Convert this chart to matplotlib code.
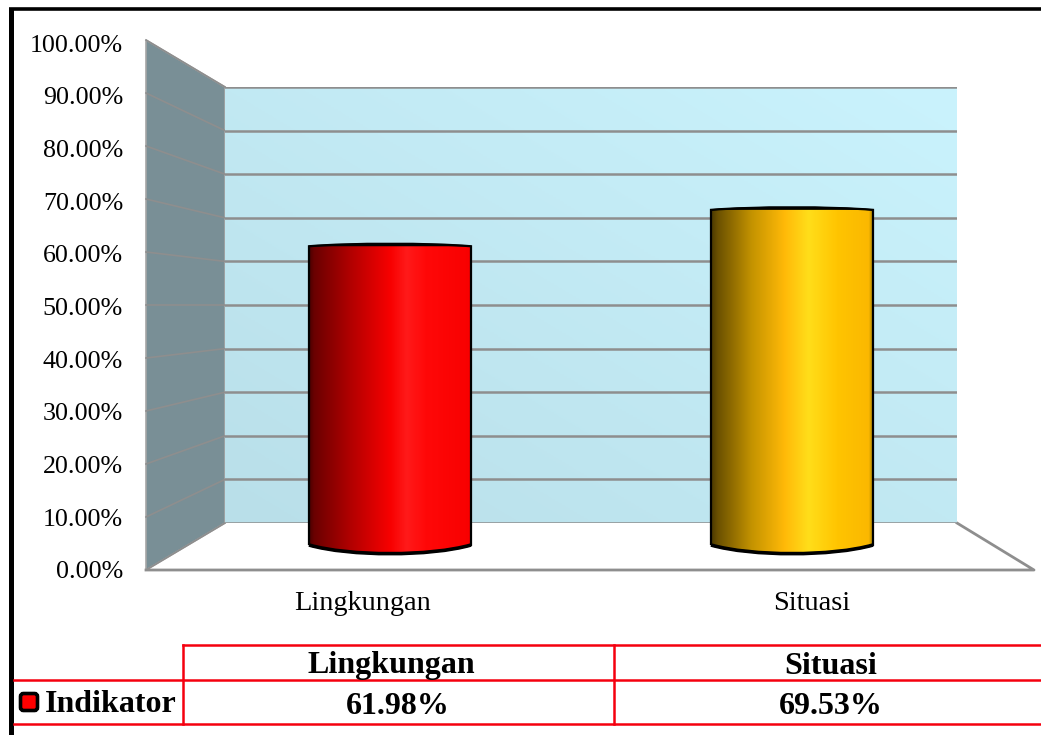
import matplotlib
matplotlib.use('Agg')
import matplotlib.pyplot as plt
import numpy as np
from matplotlib.colors import LinearSegmentedColormap
from matplotlib.patches import PathPatch, Polygon, FancyBboxPatch
from matplotlib.path import Path

categories = ['Lingkungan', 'Situasi']
values = [61.98, 69.53]
series_name = 'Indikator'
value_labels = ['61.98%', '69.53%']
ticks = [0, 10, 20, 30, 40, 50, 60, 70, 80, 90, 100]
tick_labels = ['%.2f%%' % t for t in ticks]

W, H = 1041, 735
GRID = '#8e8e8e'
RED = '#f5000f'
SERIF = 'Liberation Serif'

plt.rcParams['font.family'] = SERIF

red_stops = [(0, '#4a0000'), (0.03, '#6a0000'), (0.25, '#b00000'), (0.5, '#f80000'),
             (0.6, '#ff1a1a'), (0.72, '#ff0808'), (1, '#f80000')]
gold_stops = [(0, '#4a3800'), (0.04, '#6a5000'), (0.25, '#c49300'), (0.45, '#ffb908'),
              (0.6, '#ffde1a'), (0.78, '#ffc400'), (0.97, '#fbb800'), (1, '#9a7a00')]
bar_cmaps = [LinearSegmentedColormap.from_list('r', red_stops),
             LinearSegmentedColormap.from_list('g', gold_stops)]


def axes_px(x0, y0, x1, y1):
    # axes from pixel box, y counted from the top of the picture
    return fig.add_axes([x0 / W, 1 - y1 / H, (x1 - x0) / W, (y1 - y0) / H])


def front_y(v):
    return 570 - 5.3 * v


def back_y(v):
    return 523 - 4.36 * v


fig = plt.figure(figsize=(W / 100, H / 100), dpi=100, facecolor='white')

# page overlay in pixels: frame, walls, floor, table
base = axes_px(0, 0, W, H)
base.set_xlim(0, W)
base.set_ylim(H, 0)
base.axis('off')

base.plot([11, 11], [8, H], color='black', lw=3.6, solid_capstyle='butt')
base.plot([9, W], [8.5, 8.5], color='black', lw=2.6, solid_capstyle='butt')

base.add_patch(Polygon([(146, front_y(100)), (225, back_y(100)), (225, back_y(0)), (146, front_y(0))],
                       closed=True, facecolor='#798f96', edgecolor='#a5a5a5', lw=1.2))
for t in ticks:
    base.plot([146, 225], [front_y(t), back_y(t)], color=GRID, lw=1.2)
base.plot([146, 1034, 957], [570, 570, 523], color=GRID, lw=2.0)

# table under the chart
base.plot([183, W], [645, 645], color=RED, lw=1.8)
base.plot([14, W], [680, 680], color=RED, lw=1.8)
base.plot([14, W], [724, 724], color=RED, lw=1.8)
base.plot([183, 183], [645, 724], color=RED, lw=1.8)
base.plot([614, 614], [645, 724], color=RED, lw=1.8)

cat_x = [362.5, 812]
head_x = [391, 831]
val_x = [397.5, 830.5]
for i in range(len(categories)):
    base.text(cat_x[i], 603, categories[i], ha='center', va='center', fontsize=20.4)
    base.text(head_x[i], 666, categories[i], ha='center', va='center', fontsize=23, fontweight='bold')
    base.text(val_x[i], 706, value_labels[i], ha='center', va='center', fontsize=23, fontweight='bold')
base.text(45, 705, series_name, ha='left', va='center', fontsize=23, fontweight='bold')
base.add_patch(FancyBboxPatch((20.5, 693.5), 17, 17, boxstyle='round,pad=0,rounding_size=3',
                              facecolor='#ff0000', edgecolor='black', lw=2.6))

# value axis labels, spaced along the front edge of the side wall
front = axes_px(146, 43, 1034, 570)
front.patch.set_alpha(0)
front.set_ylim(0, 100)
front.set_yticks(ticks)
front.set_yticklabels(tick_labels, fontsize=18.7)
front.set_xticks([])
front.tick_params(axis='y', length=0, pad=16.5)
for s in front.spines.values():
    s.set_visible(False)

# back wall with its gridlines
back = axes_px(225, 87, 957, 523)
back.set_xlim(0, 1)
back.set_ylim(0, 100)
gx, gy = np.meshgrid(np.linspace(0, 1, 200), np.linspace(0, 1, 200))
wall_cmap = LinearSegmentedColormap.from_list('wall', ['#b9dfe9', '#caf3fd'])
back.imshow((gx + gy) / 2, extent=(0, 1, 0, 100), origin='lower', aspect='auto', cmap=wall_cmap, zorder=0)
back.set_yticks(ticks)
back.set_xticks([])
back.tick_params(axis='y', length=0, labelleft=False)
back.grid(axis='y', color=GRID, lw=1.8, zorder=1)
for s in back.spines.values():
    s.set_visible(False)

# cylinders, value axis runs up from the rim of the base; room below zero for the curve
bars = axes_px(189, 63, 993, 569.1)
bars.patch.set_alpha(0)
bars.axis('off')
half = 0.2015
sag = 2.4     # how far the bottom curve hangs below zero
rise = 0.7    # how far the lid curve rises above the value
for i, v in enumerate(values):
    left, right = i - half, i + half
    verts = [(left, 0), (left, v), (i - half / 2, v + rise), (i + half / 2, v + rise), (right, v),
             (right, 0), (i + half / 2, -sag), (i - half / 2, -sag), (left, 0)]
    codes = [Path.MOVETO, Path.LINETO, Path.CURVE4, Path.CURVE4, Path.CURVE4,
             Path.LINETO, Path.CURVE4, Path.CURVE4, Path.CURVE4]
    outline = PathPatch(Path(verts, codes), facecolor='none', edgecolor='black', lw=1.6, zorder=4)
    bars.add_patch(outline)
    img = bars.imshow(np.linspace(0, 1, 256)[None, :], extent=(left, right, -sag, v + rise),
                      origin='lower', aspect='auto', cmap=bar_cmaps[i], zorder=3)
    img.set_clip_path(outline)
    # dark lid and heavier lower rim
    lid = Path([(left, v), (i - half / 2, v + rise), (i + half / 2, v + rise), (right, v)],
               [Path.MOVETO, Path.CURVE4, Path.CURVE4, Path.CURVE4])
    bars.add_patch(PathPatch(lid, facecolor='black', edgecolor='black', lw=1.0, zorder=5))
    rim = Path([(right, 0), (i + half / 2, -sag), (i - half / 2, -sag), (left, 0)],
               [Path.MOVETO, Path.CURVE4, Path.CURVE4, Path.CURVE4])
    bars.add_patch(PathPatch(rim, facecolor='none', edgecolor='black', lw=2.6, zorder=5))
bars.set_xlim(-0.5, 1.5)
bars.set_ylim(-5, 100)

fig.savefig('out.png', dpi=100)
plt.close(fig)
